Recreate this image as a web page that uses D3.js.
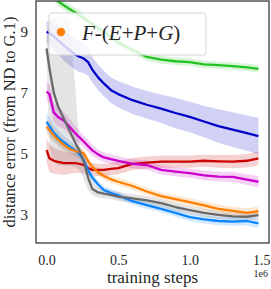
<!DOCTYPE html>
<html>
<head>
<meta charset="utf-8">
<script src="https://cdn.jsdelivr.net/npm/d3@7"></script>
<style>
  body { margin: 0; background: #fff; }
  svg { display: block; }
  text { font-family: "Liberation Serif", "DejaVu Serif", serif; fill: #262626; }
</style>
</head>
<body>
<div id="chart"></div>
<script>
// training steps (in 1e6)
const steps = [0, 0.02, 0.05, 0.08, 0.12, 0.16, 0.2, 0.23, 0.26, 0.29, 0.32, 0.36, 0.4, 0.45, 0.5, 0.6, 0.7, 0.8, 0.9, 1.0, 1.1, 1.2, 1.3, 1.4, 1.48];

const greenMean = [10.35, 10.28, 10.15, 10.0, 9.87, 9.75, 9.63, 9.55, 9.45, 9.35, 9.25, 9.12, 9.0, 8.82, 8.65, 8.4, 8.17, 8.08, 8.03, 8.0, 7.93, 7.9, 7.87, 7.83, 7.78];
const greenSpread = [0.15, 0.15, 0.15, 0.15, 0.15, 0.15, 0.15, 0.15, 0.14, 0.14, 0.14, 0.14, 0.13, 0.13, 0.13, 0.12, 0.12, 0.12, 0.12, 0.12, 0.12, 0.12, 0.12, 0.12, 0.13];

const blueMean = [9.0, 8.95, 8.85, 8.72, 8.55, 8.4, 8.25, 8.18, 8.12, 8.0, 7.75, 7.5, 7.3, 7.08, 6.95, 6.75, 6.6, 6.47, 6.33, 6.2, 6.05, 5.9, 5.78, 5.67, 5.57];
const blueSpread = [0.35, 0.38, 0.42, 0.45, 0.5, 0.5, 0.5, 0.5, 0.48, 0.45, 0.42, 0.42, 0.42, 0.42, 0.43, 0.45, 0.45, 0.47, 0.5, 0.5, 0.52, 0.55, 0.57, 0.58, 0.6];

const grayMean = [8.45, 7.8, 7.0, 6.55, 6.15, 5.75, 5.35, 5.1, 4.73, 4.2, 3.83, 3.72, 3.68, 3.64, 3.58, 3.52, 3.46, 3.37, 3.24, 3.14, 3.05, 2.98, 2.93, 2.92, 2.97];
const grayUpper = [8.7, 9.4, 9.5, 9.5, 9.5, 9.4, 7.2, 5.3, 4.95, 4.45, 4.05, 3.9, 3.85, 3.8, 3.73, 3.66, 3.6, 3.5, 3.37, 3.27, 3.18, 3.11, 3.06, 3.05, 3.1];
const grayLower = [8.2, 5.2, 4.7, 4.6, 4.6, 4.6, 4.55, 4.45, 4.15, 3.8, 3.62, 3.55, 3.53, 3.5, 3.44, 3.38, 3.32, 3.24, 3.11, 3.01, 2.92, 2.85, 2.8, 2.79, 2.84];

const azureMean = [6.04, 5.9, 5.68, 5.52, 5.37, 5.23, 5.1, 4.98, 4.78, 4.45, 4.2, 3.98, 3.8, 3.7, 3.62, 3.43, 3.3, 3.18, 3.05, 2.91, 2.83, 2.78, 2.76, 2.78, 2.7];
const azureSpread = [0.3, 0.3, 0.28, 0.25, 0.22, 0.2, 0.18, 0.16, 0.15, 0.14, 0.13, 0.12, 0.12, 0.12, 0.12, 0.12, 0.12, 0.12, 0.13, 0.13, 0.13, 0.14, 0.14, 0.15, 0.15];

const orangeMean = [5.88, 5.77, 5.6, 5.45, 5.28, 5.15, 5.08, 5.05, 5.0, 4.75, 4.55, 4.38, 4.26, 4.15, 4.07, 3.93, 3.75, 3.6, 3.5, 3.4, 3.29, 3.18, 3.11, 3.05, 3.1];
const orangeSpread = [0.25, 0.25, 0.22, 0.2, 0.18, 0.16, 0.15, 0.14, 0.13, 0.12, 0.12, 0.12, 0.12, 0.12, 0.12, 0.12, 0.12, 0.12, 0.13, 0.13, 0.13, 0.14, 0.14, 0.15, 0.16];

const magentaMean = [7.03, 6.95, 6.35, 6.2, 6.08, 5.88, 5.66, 5.53, 5.39, 5.24, 5.1, 4.97, 4.87, 4.81, 4.76, 4.66, 4.62, 4.46, 4.4, 4.35, 4.28, 4.24, 4.23, 4.14, 4.07];
const magentaSpread = [0.3, 0.32, 0.32, 0.3, 0.28, 0.26, 0.24, 0.22, 0.2, 0.2, 0.18, 0.17, 0.16, 0.16, 0.15, 0.15, 0.15, 0.15, 0.15, 0.15, 0.16, 0.16, 0.17, 0.18, 0.18];

const redMean = [5.11, 4.84, 4.76, 4.72, 4.68, 4.68, 4.68, 4.66, 4.62, 4.52, 4.46, 4.46, 4.46, 4.49, 4.52, 4.66, 4.7, 4.73, 4.73, 4.73, 4.76, 4.74, 4.73, 4.76, 4.84];
const redSpread = [0.4, 0.45, 0.42, 0.4, 0.38, 0.35, 0.32, 0.3, 0.28, 0.25, 0.22, 0.2, 0.2, 0.2, 0.2, 0.2, 0.2, 0.2, 0.2, 0.2, 0.2, 0.21, 0.22, 0.22, 0.23];

const xTicks = [0, 0.5, 1.0, 1.5];
const yTicks = [3, 5, 7, 9];
const legendLabel = ["F", "-(", "E", "+", "P", "+", "G", ")"];

const width = 271;
const height = 289;
const plot = { left: 36, right: 269, top: 1, bottom: 243 };

const x = d3.scaleLinear().domain([-0.074, 1.554]).range([plot.left, plot.right]);
const y = d3.scaleLinear().domain([2.057, 10.01]).range([plot.bottom, plot.top]);

function withSpread(mean, spread) {
  return steps.map((t, i) => ({ t: t, v: mean[i], lo: mean[i] - spread[i], hi: mean[i] + spread[i] }));
}

// bottom first, top last
const series = [
  { color: "#22c322", data: withSpread(greenMean, greenSpread) },
  { color: "#0000c8", data: withSpread(blueMean, blueSpread) },
  { color: "#cc0000", data: withSpread(redMean, redSpread) },
  { color: "#cc00cc", data: withSpread(magentaMean, magentaSpread) },
  { color: "#0a84ff", data: withSpread(azureMean, azureSpread) },
  { color: "#ff8000", data: withSpread(orangeMean, orangeSpread) },
  { color: "#696969", data: steps.map((t, i) => ({ t: t, v: grayMean[i], lo: grayLower[i], hi: grayUpper[i] })) }
];

const svg = d3.select("#chart")
  .append("svg")
  .attr("width", width)
  .attr("height", height);

svg.append("defs")
  .append("clipPath")
  .attr("id", "plot-clip")
  .append("rect")
  .attr("x", plot.left)
  .attr("y", plot.top)
  .attr("width", plot.right - plot.left)
  .attr("height", plot.bottom - plot.top);

const g = svg.append("g").attr("clip-path", "url(#plot-clip)");

const area = d3.area()
  .x(d => x(d.t))
  .y0(d => y(d.lo))
  .y1(d => y(d.hi));

const line = d3.line()
  .x(d => x(d.t))
  .y(d => y(d.v));

series.forEach(s => {
  g.append("path")
    .attr("d", area(s.data))
    .attr("fill", s.color)
    .attr("fill-opacity", 0.18)
    .attr("stroke", "none");
});

series.forEach(s => {
  g.append("path")
    .attr("d", line(s.data))
    .attr("fill", "none")
    .attr("stroke", s.color)
    .attr("stroke-width", 2.3)
    .attr("stroke-linejoin", "round");
});

// frame
svg.append("rect")
  .attr("x", plot.left)
  .attr("y", plot.top)
  .attr("width", plot.right - plot.left)
  .attr("height", plot.bottom - plot.top)
  .attr("fill", "none")
  .attr("stroke", "#333")
  .attr("stroke-width", 1.25);

// axes (no tick marks, just labels)
const xAxis = svg.append("g")
  .attr("transform", `translate(0,${plot.bottom})`)
  .call(d3.axisBottom(x).tickValues(xTicks).tickFormat(d3.format(".1f")).tickSize(0).tickPadding(12));
xAxis.select(".domain").remove();
xAxis.selectAll("text")
  .style("font-size", "14px")
  .style("font-family", "'Liberation Serif', serif")
  .attr("fill", "#262626");

const yAxis = svg.append("g")
  .attr("transform", `translate(${plot.left},0)`)
  .call(d3.axisLeft(y).tickValues(yTicks).tickFormat(d3.format("d")).tickSize(0).tickPadding(8));
yAxis.select(".domain").remove();
yAxis.selectAll("text")
  .style("font-size", "15px")
  .style("font-family", "'Liberation Serif', serif")
  .attr("fill", "#262626");

svg.append("text")
  .attr("x", (plot.left + plot.right) / 2)
  .attr("y", 283)
  .attr("text-anchor", "middle")
  .style("font-size", "17px")
  .text("training steps");

svg.append("text")
  .attr("x", 268)
  .attr("y", 277)
  .attr("text-anchor", "end")
  .style("font-size", "10px")
  .text("1e6");

svg.append("text")
  .attr("transform", `translate(14.5,${(plot.top + plot.bottom) / 2}) rotate(-90)`)
  .attr("text-anchor", "middle")
  .style("font-size", "16.5px")
  .text("distance error (from ND to G.1)");

// legend
const legend = svg.append("g");
legend.append("rect")
  .attr("x", 49)
  .attr("y", 13)
  .attr("width", 157)
  .attr("height", 42)
  .attr("rx", 3)
  .attr("fill", "#fff")
  .attr("fill-opacity", 0.8)
  .attr("stroke", "#d6d6d6")
  .attr("stroke-width", 1);

legend.append("circle")
  .attr("cx", 61)
  .attr("cy", 32)
  .attr("r", 4.2)
  .attr("fill", "#ff8000");

const label = legend.append("text")
  .attr("x", 82)
  .attr("y", 40)
  .style("font-size", "21px");
label.selectAll("tspan")
  .data(legendLabel)
  .enter()
  .append("tspan")
  .style("font-style", (d, i) => i % 2 === 0 ? "italic" : "normal")
  .text(d => d);
</script>
</body>
</html>
